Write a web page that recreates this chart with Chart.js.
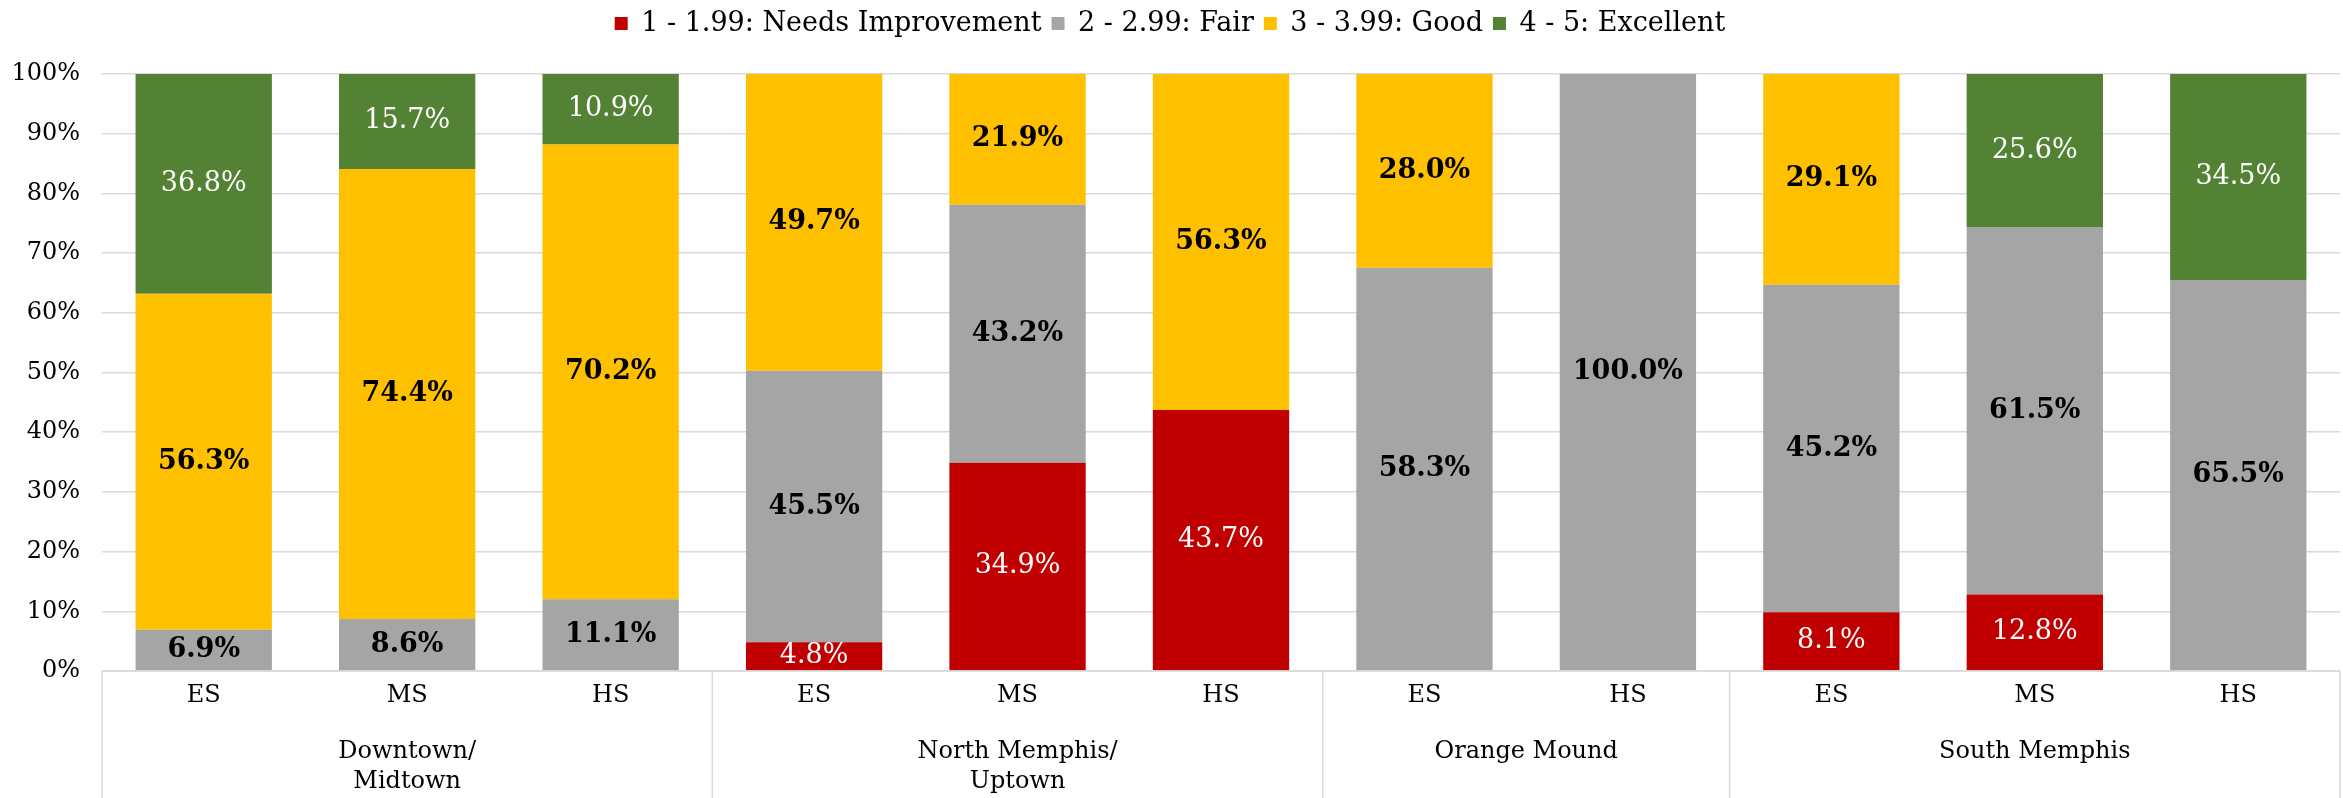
<!doctype html>
<html lang="en">
<head>
	<meta charset="utf-8">
	<title>School ratings by neighborhood</title>
	<style>
		* {
			margin: 0;
			padding: 0;
		}

		body {
			background: white;
		}

		.chartBox {
			width: 2343px;
			height: 798px;
		}
	</style>
</head>

<body>
	<div class="chartBox">
		<canvas id="myChart" width="2343" height="798"></canvas>
	</div>

	<script src="https://cdn.jsdelivr.net/npm/chart.js"></script>
	<script>
		/*=====Data=====*/
		const schools = ['ES', 'MS', 'HS', 'ES', 'MS', 'HS', 'ES', 'HS', 'ES', 'MS', 'HS'];
		const groups = [
			['Downtown/', 'Midtown'],
			['North Memphis/', 'Uptown'],
			['Orange Mound'],
			['South Memphis']
		];
		const groupSizes = [3, 3, 2, 3];

		const needsImprovement = [0, 0, 0, 4.8, 34.9, 43.7, 0, 0, 8.1, 12.8, 0];
		const fair = [6.9, 8.6, 11.1, 45.5, 43.2, 0, 58.3, 100.0, 45.2, 61.5, 65.5];
		const good = [56.3, 74.4, 70.2, 49.7, 21.9, 56.3, 28.0, 0, 29.1, 0, 0];
		const excellent = [36.8, 15.7, 10.9, 0, 0, 0, 0, 0, 0, 25.6, 34.5];

		const seriesNames = ['1 - 1.99: Needs Improvement', '2 - 2.99: Fair', '3 - 3.99: Good', '4 - 5: Excellent'];
		const seriesColors = ['#C00000', '#A5A5A5', '#FFC000', '#548235'];
		const labelColors = ['#FFFFFF', '#000000', '#000000', '#FFFFFF'];
		const labelWeights = ['normal', 'bold', 'bold', 'normal'];
		/*=====End Data=====*/

		const FONT = "'DejaVu Serif', 'Liberation Serif', serif";
		const rawSeries = [needsImprovement, fair, good, excellent];

		// 100% stacked: each bar is scaled to its own total
		const totals = schools.map((s, i) => rawSeries.reduce((a, arr) => a + arr[i], 0));

		const data = {
			labels: schools,
			datasets: rawSeries.map((arr, k) => ({
				label: seriesNames[k],
				data: arr.map((v, i) => v / totals[i] * 100),
				raw: arr,
				backgroundColor: seriesColors[k],
				borderWidth: 0,
				barPercentage: 0.67,
				categoryPercentage: 1
			}))
		};

		/*=====Extra space under the legend=====*/
		const legendMargin = {
			id: 'legendMargin',
			beforeInit(chart) {
				const fit = chart.legend.fit;
				chart.legend.fit = function () {
					fit.bind(chart.legend)();
					this.height += 27;
				};
			}
		};

		/*=====Segment labels=====*/
		const segmentLabels = {
			id: 'segmentLabels',
			afterDatasetsDraw(chart) {
				const {ctx} = chart;
				ctx.save();
				ctx.textAlign = 'center';
				ctx.textBaseline = 'middle';
				chart.data.datasets.forEach((ds, k) => {
					const meta = chart.getDatasetMeta(k);
					meta.data.forEach((bar, i) => {
						const v = ds.raw[i];
						if (!v) return;
						ctx.font = labelWeights[k] + ' 27px ' + FONT;
						ctx.fillStyle = labelColors[k];
						ctx.fillText(v.toFixed(1) + '%', bar.x, (bar.y + bar.base) / 2);
					});
				});
				ctx.restore();
			}
		};

		/*=====Group axis=====*/
		const groupAxis = {
			id: 'groupAxis',
			afterDraw(chart) {
				const {ctx, scales: {x}, chartArea} = chart;
				const bottom = chart.height;
				const half = (x.getPixelForValue(1) - x.getPixelForValue(0)) / 2;
				ctx.save();
				ctx.strokeStyle = '#D9D9D9';
				ctx.lineWidth = 1.5;
				ctx.beginPath();
				ctx.moveTo(chartArea.left, chartArea.bottom);
				ctx.lineTo(chartArea.right, chartArea.bottom);
				let start = 0;
				const edges = [chartArea.left];
				groupSizes.forEach(n => {
					const end = start + n - 1;
					edges.push(x.getPixelForValue(end) + half);
					start += n;
				});
				edges.forEach(px => {
					ctx.moveTo(px, chartArea.bottom);
					ctx.lineTo(px, bottom);
				});
				ctx.stroke();

				ctx.fillStyle = '#000';
				ctx.font = '24px ' + FONT;
				ctx.textAlign = 'center';
				ctx.textBaseline = 'middle';
				start = 0;
				groupSizes.forEach((n, g) => {
					const cx = (x.getPixelForValue(start) + x.getPixelForValue(start + n - 1)) / 2;
					groups[g].forEach((line, j) => {
						ctx.fillText(line, cx, chartArea.bottom + 81 + j * 30);
					});
					start += n;
				});
				ctx.restore();
			}
		};

		const config = {
			type: 'bar',
			data,
			options: {
				responsive: false,
				animation: false,
				layout: {
					padding: {top: 0, right: 3, bottom: 0, left: 0}
				},
				plugins: {
					legend: {
						position: 'top',
						labels: {
							boxWidth: 13,
							boxHeight: 13,
							padding: 10,
							color: '#000',
							font: {family: FONT, size: 27}
						}
					},
					tooltip: {enabled: false}
				},
				scales: {
					x: {
						stacked: true,
						grid: {display: false, drawTicks: false},
						border: {display: false},
						ticks: {
							color: '#000',
							padding: 10,
							font: {family: FONT, size: 24}
						},
						afterFit(scale) {
							scale.height = 127;
						}
					},
					y: {
						stacked: true,
						min: 0,
						max: 100,
						grid: {color: '#D9D9D9', lineWidth: 1.5, drawTicks: false},
						border: {display: false},
						ticks: {
							stepSize: 10,
							color: '#000',
							padding: 22,
							font: {family: FONT, size: 24},
							callback: v => v + '%'
						},
						afterFit(scale) {
							scale.width = 102;
						}
					}
				}
			},
			plugins: [legendMargin, segmentLabels, groupAxis]
		};

		const myChart = new Chart(document.getElementById('myChart'), config);
	</script>
</body>

</html>
